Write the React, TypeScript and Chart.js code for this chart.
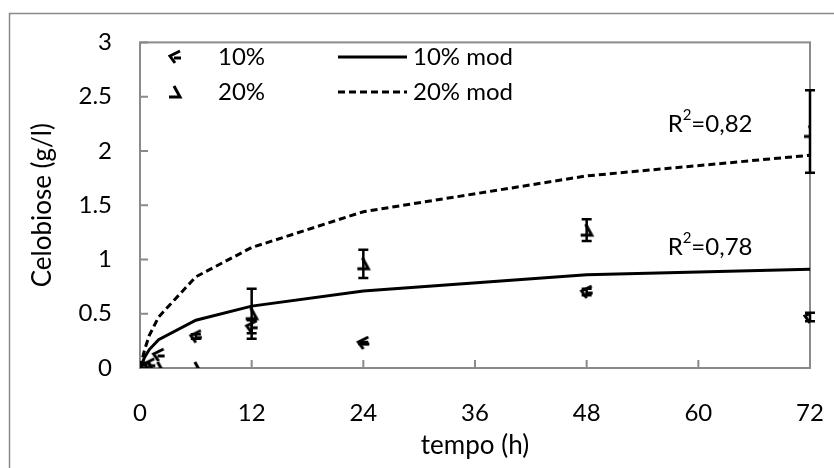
import React, { useEffect, useRef } from "react";
import { Chart, registerables } from "chart.js";
Chart.register(...registerables);

const times = [0, 0.5, 1, 2, 6, 12, 24, 48, 72];
const obs10 = [0, 0, 0.03, 0.12, 0.29, 0.38, 0.23, 0.7, 0.47];
const err10 = [0, 0, 0, 0, 0.02, 0.06, 0.01, 0.03, 0.04];
const obs20 = [0, 0, 0, 0, 0, 0.5, 0.96, 1.27, 2.18];
const err20 = [0, 0, 0, 0, 0, 0.23, 0.13, 0.1, 0.38];
const mod10 = [0, 0.1, 0.17, 0.26, 0.44, 0.57, 0.71, 0.86, 0.91];
const mod20 = [0, 0.17, 0.3, 0.47, 0.84, 1.11, 1.44, 1.77, 1.96];
const xTicks = [0, 12, 24, 36, 48, 60, 72];
const yTicks = [0, 0.5, 1, 1.5, 2, 2.5, 3];
const seriesLabels = ["10%", "20%", "10% mod", "20% mod"];
const r2Texts = ["0,82", "0,78"];
const r2Anchors = [
  { x: 56.7, y: 2.25 },
  { x: 56.7, y: 1.11 },
];

const FONT = "Lato, 'DejaVu Sans', sans-serif";
const FS = 24;
const TFS = 26;
const GRAY = "#8a8a8a";

function makeMarker(kind: string) {
  const c = document.createElement("canvas");
  c.width = 20;
  c.height = 20;
  const g = c.getContext("2d")!;
  g.strokeStyle = "#000";
  g.lineWidth = 3;
  g.lineJoin = "miter";
  g.translate(10, 10);
  if (kind === "a") {
    g.beginPath();
    g.moveTo(5, -6);
    g.lineTo(-5, -1);
    g.lineTo(0, 6);
    g.stroke();
    g.beginPath();
    g.moveTo(-1, 1);
    g.lineTo(6, 1);
    g.stroke();
  } else {
    g.beginPath();
    g.moveTo(-1, -6);
    g.lineTo(5, 5);
    g.lineTo(-6, 5);
    g.stroke();
  }
  return c;
}

export default function App() {
  const ref = useRef<HTMLCanvasElement | null>(null);
  useEffect(() => {
    const canvas = ref.current!;
    const m10 = makeMarker("a");
    const m20 = makeMarker("b");
    const pts = (ys: number[]) => times.map((t, i) => ({ x: t, y: ys[i] }));

    const framePlugin = {
      id: "frame",
      beforeDatasetsDraw(chart: any) {
        const { ctx, chartArea: a, scales } = chart;
        ctx.save();
        ctx.strokeStyle = GRAY;
        ctx.lineWidth = 1.5;
        ctx.beginPath();
        ctx.moveTo(9.5, 468);
        ctx.lineTo(9.5, 13.5);
        ctx.lineTo(834, 13.5);
        ctx.stroke();
        ctx.lineWidth = 2;
        ctx.strokeRect(a.left, a.top, a.right - a.left, a.bottom - a.top);
        ctx.beginPath();
        yTicks.forEach((v) => {
          const y = scales.y.getPixelForValue(v);
          ctx.moveTo(a.left, y);
          ctx.lineTo(a.left + 8, y);
        });
        xTicks.forEach((v) => {
          const x = scales.x.getPixelForValue(v);
          ctx.moveTo(x, a.bottom);
          ctx.lineTo(x, a.bottom - 8);
        });
        ctx.stroke();
        ctx.restore();
      },
      afterDatasetsDraw(chart: any) {
        const { ctx, scales } = chart;
        ctx.save();
        ctx.strokeStyle = "#000";
        ctx.lineWidth = 2.5;
        chart.data.datasets.forEach((ds: any) => {
          if (!ds.errors) return;
          ds.data.forEach((p: any, i: number) => {
            const e = ds.errors[i];
            if (!e) return;
            const x = scales.x.getPixelForValue(p.x);
            const y1 = scales.y.getPixelForValue(p.y + e);
            const y2 = scales.y.getPixelForValue(p.y - e);
            ctx.beginPath();
            ctx.moveTo(x, y1);
            ctx.lineTo(x, y2);
            ctx.moveTo(x - 5, y1);
            ctx.lineTo(x + 5, y1);
            ctx.moveTo(x - 5, y2);
            ctx.lineTo(x + 5, y2);
            ctx.stroke();
          });
        });
        ctx.fillStyle = "#000";
        ctx.textBaseline = "middle";
        r2Anchors.forEach((an, i) => {
          let x = scales.x.getPixelForValue(an.x);
          const y = scales.y.getPixelForValue(an.y);
          ctx.font = `${FS}px ${FONT}`;
          ctx.fillText("R", x, y);
          x += ctx.measureText("R").width;
          ctx.font = `${Math.round(FS * 0.62)}px ${FONT}`;
          ctx.fillText("2", x, y - 9);
          x += ctx.measureText("2").width;
          ctx.font = `${FS}px ${FONT}`;
          ctx.fillText("=" + r2Texts[i], x, y);
        });
        const rows = [57, 92];
        const dss = chart.data.datasets;
        ctx.font = `${FS}px ${FONT}`;
        rows.forEach((ry, i) => {
          const obs = dss[i];
          const mod = dss[i + 2];
          ctx.drawImage(obs.pointStyle, 175 - 10, ry - 10);
          ctx.fillText(obs.label, 218, ry);
          ctx.save();
          ctx.strokeStyle = "#000";
          ctx.lineWidth = 3;
          ctx.setLineDash(mod.borderDash || []);
          ctx.beginPath();
          ctx.moveTo(338, ry);
          ctx.lineTo(407, ry);
          ctx.stroke();
          ctx.restore();
          ctx.fillText(mod.label, 413, ry);
        });
        ctx.restore();
      },
    };

    const chart = new Chart(canvas, {
      type: "scatter",
      data: {
        datasets: [
          {
            label: seriesLabels[0],
            data: pts(obs10),
            errors: err10,
            pointStyle: m10,
            pointRadius: 8,
            showLine: false,
          } as any,
          {
            label: seriesLabels[1],
            data: pts(obs20),
            errors: err20,
            pointStyle: m20,
            pointRadius: 8,
            showLine: false,
          } as any,
          {
            label: seriesLabels[2],
            data: pts(mod10),
            showLine: true,
            borderColor: "#000",
            borderWidth: 3,
            pointRadius: 0,
          },
          {
            label: seriesLabels[3],
            data: pts(mod20),
            showLine: true,
            borderColor: "#000",
            borderWidth: 3,
            borderDash: [7, 4],
            pointRadius: 0,
          },
        ],
      },
      options: {
        responsive: false,
        animation: false,
        layout: { padding: { top: 39, right: 24, left: 0, bottom: 0 } },
        plugins: { legend: { display: false }, tooltip: { enabled: false } },
        scales: {
          x: {
            type: "linear",
            min: 0,
            max: 72,
            afterFit: (s: any) => {
              s.height = 100;
              s.paddingLeft = 0;
              s.paddingRight = 0;
            },
            afterBuildTicks: (s: any) => {
              s.ticks = xTicks.map((v) => ({ value: v }));
            },
            grid: { display: false, drawTicks: false },
            border: { display: false },
            ticks: {
              padding: 31,
              color: "#000",
              font: { family: FONT, size: FS },
              maxRotation: 0,
              callback: (v: any) => String(v),
            },
            title: {
              display: true,
              text: "tempo (h)",
              color: "#000",
              font: { family: FONT, size: TFS },
              padding: { top: 0, bottom: 7 },
            },
          },
          y: {
            type: "linear",
            min: 0,
            max: 3,
            afterFit: (s: any) => {
              s.width = 140;
            },
            afterBuildTicks: (s: any) => {
              s.ticks = yTicks.map((v) => ({ value: v }));
            },
            grid: { display: false, drawTicks: false },
            border: { display: false },
            ticks: {
              padding: 28,
              color: "#000",
              font: { family: FONT, size: FS },
              callback: (v: any) => String(v),
            },
            title: {
              display: true,
              text: "Celobiose (g/l)",
              color: "#000",
              font: { family: FONT, size: TFS },
              padding: { top: 27, bottom: 0 },
            },
          },
        },
      },
      plugins: [framePlugin],
    } as any);
    return () => chart.destroy();
  }, []);
  return (
    <div style={{ position: "absolute", left: 0, top: 0, width: 834, height: 468, background: "#fff" }}>
      <canvas ref={ref} width={834} height={468} style={{ width: 834, height: 468 }} />
    </div>
  );
}
